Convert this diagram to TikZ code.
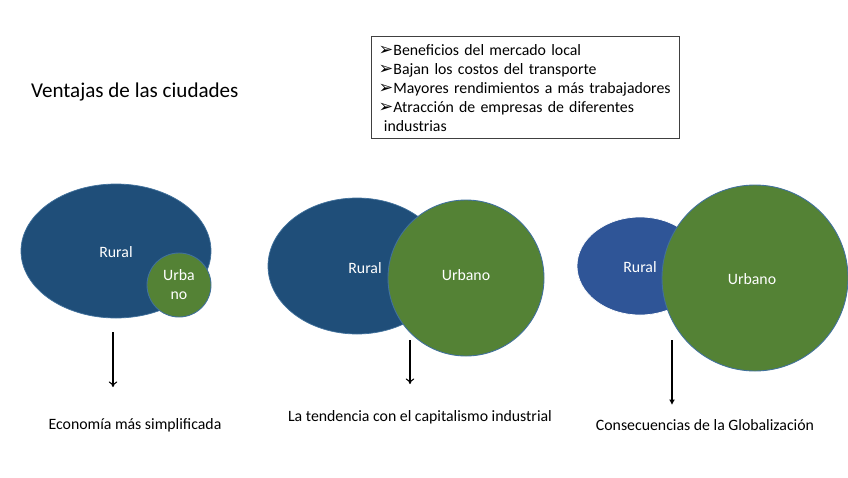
\documentclass[tikz,border=0pt]{standalone}
\usepackage{fontspec}
\setmainfont{Carlito}
\newfontfamily\bulletfont{DejaVu Sans}
\usetikzlibrary{arrows.meta}
\definecolor{RuralDark}{HTML}{1F4E79}
\definecolor{RuralLight}{HTML}{2F5597}
\definecolor{UrbanGreen}{HTML}{548235}
\definecolor{ShapeEdge}{HTML}{41719C}
\definecolor{BoxInk}{gray}{0.25}
\newcommand{\ventbullet}{{\bulletfont\fontsize{10}{10}\selectfont ➢}}
\tikzset{
    city/diagram/.style={
        x=0.02cm, y=-0.02cm,
        font=\fontsize{9}{10.8}\selectfont,
        every node/.style={inner sep=1pt}
    },
    city/rural/.style={fill=RuralDark, draw=ShapeEdge, line width=0.4pt},
    city/ruralpale/.style={fill=RuralLight, draw=white, line width=0.4pt},
    city/urban/.style={fill=UrbanGreen, draw=ShapeEdge, line width=0.5pt},
    city/inlabel/.style={text=white, align=center},
    city/outcome/.style={text=black},
    city/listbox/.style={
        draw=BoxInk, line width=0.8pt, anchor=north west,
        text width=5.88cm, minimum height=2.04cm,
        inner xsep=0.14cm, inner ysep=0pt, align=left
    },
    city/lead/.style={
        draw=black, line width=0.6pt,
        -{To[length=1.1mm, width=1.7mm]}
    },
    city/leadfilled/.style={
        draw=black, line width=0.6pt,
        -{Latex[length=1.1mm, width=1.2mm]}
    }
}
\begin{document}
\begin{tikzpicture}[city/diagram]
    \useasboundingbox (0,0) rectangle (848,477);
    \node[anchor=west, font=\fontsize{12}{14}\selectfont] (title) at (29,92) {Ventajas de las ciudades};
    \node[city/listbox] (ventajas) at (371,36) {%
        \ventbullet Beneficios del mercado local\\
        \ventbullet Bajan los costos del transporte\\
        \ventbullet Mayores rendimientos a más trabajadores\\
        \ventbullet Atracción de empresas de diferentes\\
        \ industrias};
    \path[city/rural] (116,251) ellipse [x radius=95, y radius=67];
    \path[city/urban] (179,285) circle [radius=32];
    \node[city/inlabel] (ruralA) at (116,252) {Rural};
    \node[city/inlabel] (urbanA) at (179,285) {Urba\\no};
    \path[city/rural] (357,266) ellipse [x radius=89, y radius=68];
    \path[city/urban] (466,278) circle [radius=78];
    \node[city/inlabel] (ruralB) at (365,268) {Rural};
    \node[city/inlabel] (urbanB) at (466,275) {Urbano};
    \path[city/ruralpale] (640,266) ellipse [x radius=63, y radius=49];
    \path[city/urban] (755,278) circle [radius=93];
    \node[city/inlabel] (ruralC) at (640,267) {Rural};
    \node[city/inlabel] (urbanC) at (752,279) {Urbano};
    \coordinate (arrowAtop) at (113,332);
    \coordinate (arrowAend) at (113,387);
    \coordinate (arrowBtop) at (410,340);
    \coordinate (arrowBend) at (410,384);
    \coordinate (arrowCtop) at (672,340);
    \coordinate (arrowCend) at (672,405);
    \draw[city/lead] (arrowAtop) -- (arrowAend);
    \draw[city/lead] (arrowBtop) -- (arrowBend);
    \draw[city/leadfilled] (arrowCtop) -- (arrowCend);
    \node[city/outcome] (economia) at (135,425) {Economía más simplificada};
    \node[city/outcome] (tendencia) at (420,417) {La tendencia con el capitalismo industrial};
    \node[city/outcome] (globalizacion) at (705,425) {Consecuencias de la Globalización};
\end{tikzpicture}
\end{document}
